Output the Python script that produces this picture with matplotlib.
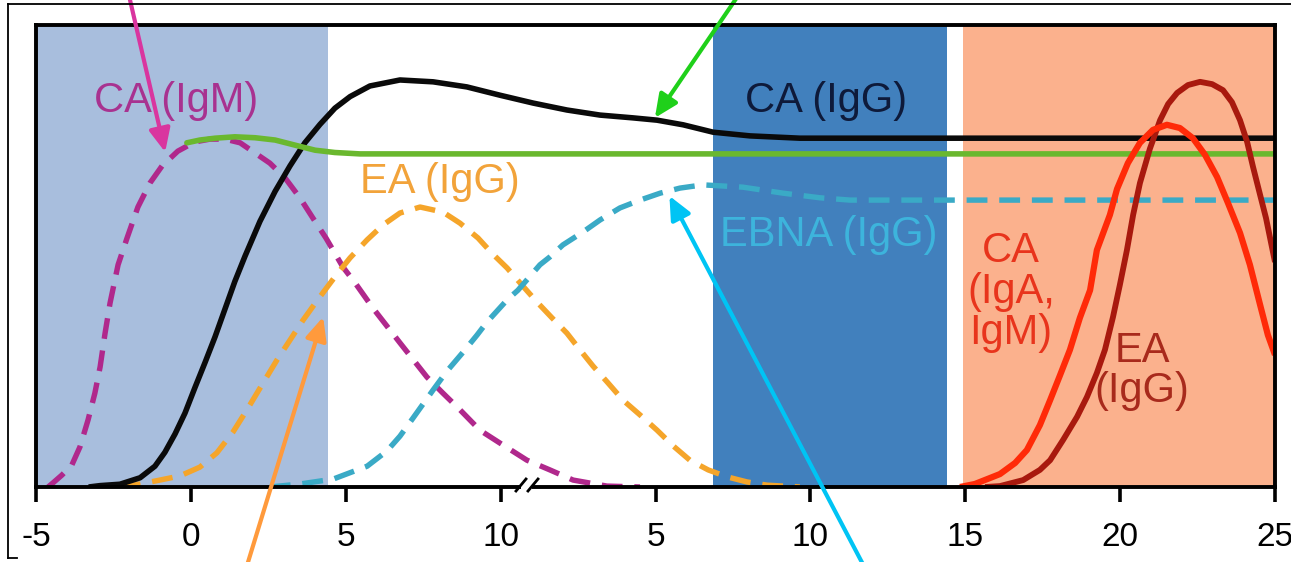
import matplotlib
matplotlib.use('Agg')
import matplotlib.pyplot as plt
from matplotlib.lines import Line2D
from matplotlib.patches import Rectangle

plt.rcParams['font.family'] = ['Liberation Sans', 'DejaVu Sans']
plt.rcParams['lines.scale_dashes'] = False

# ---------------- data ----------------
# x positions on a continuous axis (-5..35); labels restart after the break
tick_pos = [-5, 0, 5, 10, 15, 20, 25, 30, 35]
tick_labels = ['-5', '0', '5', '10', '5', '10', '15', '20', '25']

ca_igg_x = [-3.3, -2.93, -2.29, -1.64, -1.16, -0.84, -0.51, -0.19, 0.13, 0.46, 0.78, 1.10, 1.42, 1.75,
            2.23, 2.72, 3.20, 3.68, 4.17, 4.65, 5.14, 5.78, 6.75, 7.82, 8.91, 9.98, 11.05, 12.14,
            13.21, 14.27, 15.05, 15.89, 16.86, 18.05, 19.66, 35.0]
ca_igg_y = [0.0, 0.3, 0.6, 2.0, 4.5, 7.5, 11.5, 16.0, 21.5, 27.0, 32.5, 38.5, 44.5, 50.0,
            57.5, 64.0, 69.5, 74.5, 78.5, 82.0, 84.5, 86.8, 88.1, 87.7, 86.6, 84.8, 83.1, 81.6,
            80.5, 79.9, 79.4, 78.4, 76.8, 76.0, 75.5, 75.5]

green_x = [-0.13, 0.29, 0.78, 1.42, 2.07, 2.72, 3.36, 4.01, 4.65, 5.46, 35.0]
green_y = [74.5, 75.1, 75.5, 75.8, 75.6, 75.1, 74.0, 72.9, 72.4, 72.1, 72.1]

ca_igm_x = [-4.61, -4.45, -4.16, -3.84, -3.58, -3.32, -3.10, -2.93, -2.77, -2.61, -2.35, -2.06, -1.71,
            -1.32, -0.93, -0.42, 0.13, 0.62, 1.10, 1.59, 2.07, 2.55, 3.04, 3.52, 3.94, 4.36, 4.91,
            5.30, 5.88, 6.75, 7.62, 8.14, 8.69, 9.33, 9.98, 10.85, 11.59, 12.34, 13.43, 14.50]
ca_igm_y = [0.0, 0.9, 2.6, 4.8, 8.7, 14.5, 20.3, 26.0, 33.3, 39.8, 48.1, 53.9, 60.6,
            65.8, 69.5, 72.7, 74.7, 75.3, 75.3, 74.5, 72.3, 70.1, 66.9, 62.6, 58.2, 53.9, 47.6,
            44.2, 38.7, 31.2, 23.8, 20.3, 16.7, 12.3, 9.5, 5.8, 3.7, 1.5, 0.2, 0.0]

ea_igg_x = [-2.29, -1.64, -1.00, -0.35, 0.29, 0.84, 1.36, 1.81, 2.33, 2.78, 3.20, 3.62, 4.07, 4.65,
            5.14, 5.69, 6.20, 6.75, 7.40, 8.14, 8.69, 9.27, 9.72, 10.21, 10.69, 11.18, 11.66, 12.14,
            12.56, 12.98, 13.47, 13.95, 14.50, 15.05, 15.57, 16.11, 16.70, 17.31, 17.95, 18.60, 19.66]
ea_igg_y = [0.0, 0.65, 1.5, 2.4, 4.3, 7.4, 11.9, 16.7, 22.5, 27.5, 31.8, 36.1, 40.3, 45.5,
            49.6, 53.5, 56.7, 59.3, 60.6, 59.5, 57.1, 53.9, 50.6, 47.4, 43.7, 40.0, 36.6, 33.3,
            29.7, 26.2, 22.5, 18.8, 15.6, 12.3, 8.9, 5.8, 3.7, 2.2, 1.1, 0.4, 0.0]

ebna_x = [2.55, 3.52, 4.59, 5.69, 6.33, 6.75, 7.17, 7.82, 8.27, 8.79, 9.24, 9.56, 10.21, 10.56,
          11.27, 11.59, 12.01, 12.66, 13.21, 13.85, 14.50, 15.15, 15.79, 16.53, 17.82, 19.12,
          20.31, 21.28, 35.0]
ebna_y = [0.0, 0.65, 1.7, 4.5, 7.8, 11.0, 14.9, 21.0, 25.1, 29.2, 32.9, 35.7, 40.5, 42.6,
          48.1, 49.8, 52.4, 55.2, 57.8, 60.4, 62.1, 63.6, 64.7, 65.4, 64.9, 63.6,
          62.6, 62.1, 62.1]

ca_iga_x = [24.83, 25.31, 26.12, 26.61, 26.99, 27.41, 27.74, 28.06, 28.38, 28.70, 29.03, 29.25,
            29.67, 29.90, 30.25, 30.64, 31.06, 31.51, 31.93, 32.35, 32.74, 33.13, 33.48, 33.87,
            34.19, 34.52, 34.77, 35.0]
ca_iga_y = [0.0, 0.65, 2.8, 5.2, 8.0, 13.4, 18.8, 24.2, 29.7, 36.6, 42.6, 51.3,
            58.9, 64.5, 70.1, 74.5, 77.3, 78.4, 77.7, 75.5, 71.9, 67.1, 61.5, 55.0,
            48.1, 39.4, 32.9, 28.6]

ea2_x = [25.64, 26.12, 26.87, 27.41, 27.74, 28.16, 28.61, 28.93, 29.25, 29.51, 29.77, 29.99,
         30.22, 30.42, 30.64, 30.96, 31.29, 31.55, 31.84, 32.19, 32.58, 32.97, 33.32, 33.61,
         33.87, 34.10, 34.29, 34.52, 34.71, 35.0]
ea2_y = [0.0, 0.2, 1.5, 3.7, 5.8, 10.2, 15.2, 19.5, 24.7, 29.7, 36.8, 43.7,
         51.3, 58.9, 65.8, 73.2, 79.4, 82.9, 85.3, 87.0, 87.7, 87.2, 85.9, 83.3,
         79.4, 74.7, 69.3, 63.2, 58.2, 48.7]

# shaded phases (x start, x end)
phase_light = (-5, 4.43)
phase_dark = (16.86, 24.41)
phase_salmon = (24.93, 35)

# ---------------- figure ----------------
W, H = 1291, 562
fig = plt.figure(figsize=(W / 100, H / 100), dpi=100)
ax = fig.add_axes([36 / W, (H - 487) / H, (1275 - 36) / W, (487 - 25) / H])
ax.set_xlim(-5, 35)
ax.set_ylim(0, 100)

ax.axvspan(*phase_light, color='#a8bedd', lw=0, zorder=0)
ax.axvspan(*phase_dark, color='#4180bd', lw=0, zorder=0)
ax.axvspan(*phase_salmon, color='#fbb18d', lw=0, zorder=0)

dash = (15, 8.5)
common = dict(solid_joinstyle='round', solid_capstyle='butt')
ax.plot(ca_igm_x, ca_igm_y, color='#b0288c', lw=3.9, dashes=dash, dash_capstyle='butt', zorder=2)
ax.plot(ea_igg_x, ea_igg_y, color='#f5a52a', lw=3.9, dashes=dash, dash_capstyle='butt', zorder=2)
ax.plot(ca_igg_x, ca_igg_y, color='#0a0a0a', lw=4.0, zorder=3, **common)
ax.plot(green_x, green_y, color='#6ab82e', lw=4.0, solid_capstyle='round', solid_joinstyle='round', zorder=3)
ax.plot(ebna_x, ebna_y, color='#3aaac6', lw=3.9, dashes=dash, dash_capstyle='butt', zorder=3.5)
ax.plot(ea2_x, ea2_y, color='#a8190e', lw=4.2, zorder=4, **common)
ax.plot(ca_iga_x, ca_iga_y, color='#ff2a08', lw=4.5, zorder=4.2, **common)

lab = dict(fontsize=30, ha='center', va='center', zorder=6)
ax.text(-0.48, 83.5, 'CA (IgM)', color='#a83290', **lab)
ax.text(20.50, 83.5, 'CA (IgG)', color='#0e1a3a', **lab)
ax.text(8.04, 66.0, 'EA (IgG)', color='#f2a33a', **lab)
ax.text(20.60, 54.5, 'EBNA (IgG)', color='#3db4dc', **lab)
ax.text(26.48, 42.2, 'CA\n(IgA,\nIgM)', color='#e8341c', linespacing=1.02, **lab)
ax.text(30.71, 25.1, 'EA\n(IgG)', color='#a82a1c', linespacing=1.02, **lab)

ax.set_xticks(tick_pos)
ax.set_xticklabels(tick_labels)
ax.set_yticks([])
ax.tick_params(axis='x', direction='out', length=11, width=2.6, labelsize=24, pad=14, colors='black')
for s in ax.spines.values():
    s.set_linewidth(2.8)
    s.set_zorder(5)

# axis break marks
def fx(px):
    return px / W

def fy(py):
    return (H - py) / H

fig.patches.append(Rectangle((fx(521), fy(491)), 11 / W, 8 / H, transform=fig.transFigure,
                             facecolor='white', edgecolor='none', zorder=20))
for x0 in (516, 528):
    fig.lines.append(Line2D([fx(x0), fx(x0 + 10)], [fy(491), fy(479)], transform=fig.transFigure,
                            color='black', lw=2.0, zorder=21))

# annotation arrows from outside the plot
arrows = [
    ((-0.83, 72.5), (127.7, H + 10), '#d9359f'),
    ((14.98, 79.9), (742, H + 10), '#1fd01a'),
    ((4.27, 36.8), (245, -10), '#ff9a3c'),
    ((15.45, 63.0), (867, -10), '#00c4f4'),
]
for xy, xyt, col in arrows:
    ax.annotate('', xy=xy, xycoords='data', xytext=xyt, textcoords='figure pixels',
                arrowprops=dict(arrowstyle='-|>,head_length=0.7,head_width=0.32', color=col,
                                lw=3.0, mutation_scale=20, shrinkA=0, shrinkB=0),
                annotation_clip=False, zorder=30)

# outer frame lines
fig.lines.append(Line2D([fx(8), 1.0], [fy(4), fy(4)], transform=fig.transFigure, color='black', lw=1.3))
fig.lines.append(Line2D([fx(8), fx(8)], [fy(4), fy(558)], transform=fig.transFigure, color='black', lw=1.3))
fig.lines.append(Line2D([fx(8), fx(17)], [fy(558), fy(558)], transform=fig.transFigure, color='black', lw=1.3))

fig.savefig('out.png', dpi=100)
